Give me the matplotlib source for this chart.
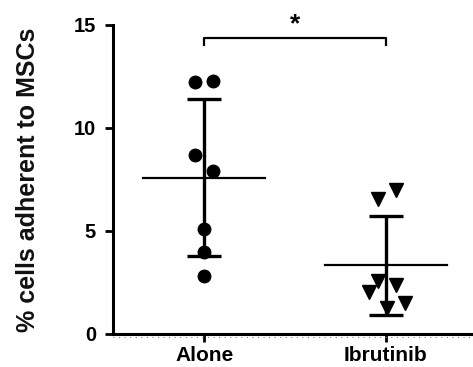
import matplotlib
matplotlib.use("Agg")
import matplotlib.pyplot as plt
import matplotlib.transforms as mtransforms
import numpy as np

categories = ["Alone", "Ibrutinib"]
alone_vals = [12.25, 12.3, 8.7, 7.9, 5.1, 3.97, 2.82]
alone_jit = [-0.05, 0.05, -0.05, 0.05, 0.0, 0.0, 0.0]
ibru_vals = [6.55, 7.0, 2.55, 2.38, 2.05, 1.5, 1.25]
ibru_jit = [-0.045, 0.055, -0.045, 0.055, -0.095, 0.105, 0.005]
yticks = [0, 5, 10, 15]
ylabel = "% cells adherent to MSCs"
sig = "*"

plt.rcParams['font.family'] = ['Liberation Sans', 'DejaVu Sans']
fig = plt.figure(figsize=(4.73, 3.67), dpi=100)
ax = fig.add_axes([0.238, 0.09, 0.762, 0.842])

groups = [(alone_vals, alone_jit, 'o', 9), (ibru_vals, ibru_jit, 'v', 10.5)]
for i, (vals, jit, m, ms) in enumerate(groups):
    v = np.array(vals)
    xs = i + np.array(jit)
    ax.plot(xs, v, linestyle='none', marker=m, color='black', markersize=ms, zorder=3, clip_on=False)
    mean = v.mean()
    sd = v.std(ddof=1)
    ax.plot([i - 0.336, i + 0.336], [mean, mean], color='black', lw=1.6, zorder=2)
    ax.errorbar([i], [mean], yerr=[sd], fmt='none', ecolor='black', elinewidth=2.4,
                capsize=12.5, capthick=2.4, zorder=2)

# significance bracket
yb = 14.38
ax.plot([0, 0, 1, 1], [yb - 0.35, yb, yb, yb - 0.35], color='black', lw=1.6, clip_on=False)
ax.text(0.5, yb + 0.05, sig, ha='center', va='bottom', fontsize=19, fontweight='bold')

ax.set_xlim(-0.505, 1.48)
ax.set_ylim(0, 15)
ax.set_yticks(yticks)
ax.set_yticklabels([str(t) for t in yticks], fontsize=14.5, fontweight='bold')
ax.set_xticks([0, 1])
ax.set_xticklabels(categories, fontsize=15, fontweight='bold')
ax.set_ylabel(ylabel, fontsize=18, fontweight='bold', color='#111111')
ax.yaxis.set_label_coords(-0.2, 0.5)

for s in ['top', 'right']:
    ax.spines[s].set_visible(False)
for s in ['left', 'bottom']:
    ax.spines[s].set_linewidth(2.2)
ax.tick_params(axis='y', width=2.0, length=6, pad=6)
ax.tick_params(axis='x', width=2.0, length=6, pad=3)

# faint dotted line under x axis
trans = mtransforms.offset_copy(ax.transAxes, fig=fig, x=0, y=-3, units='dots')
ax.plot([0, 1], [0, 0], transform=trans, color='gray', lw=0.8, ls=(0, (1, 4)), clip_on=False)

fig.savefig("out.png", dpi=100)
